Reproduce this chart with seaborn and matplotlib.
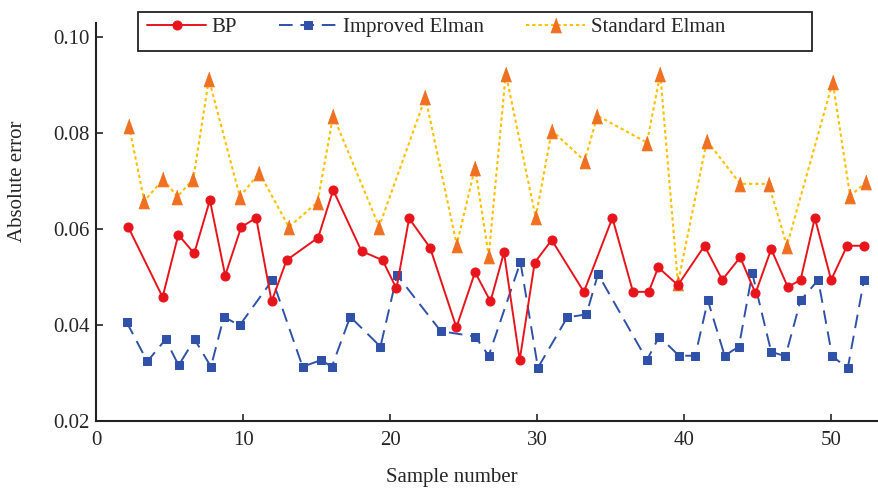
import matplotlib
matplotlib.use("Agg")

import matplotlib.pyplot as plt
import pandas as pd
import seaborn as sns
from matplotlib.patches import Rectangle


# sample positions and absolute errors
bp_x = [2.16, 4.5, 5.57, 6.65, 7.72, 8.76, 9.85, 10.87, 11.92, 12.94, 15.09, 16.11, 18.04,
        19.47, 20.42, 21.28, 22.71, 24.5, 25.77, 26.82, 27.74, 28.81, 29.83, 30.99, 33.18,
        35.12, 36.52, 37.59, 38.24, 39.58, 41.39, 42.6, 43.82, 44.86, 45.93, 47.06, 47.93,
        48.9, 50.01, 51.1, 52.22]
bp_y = [0.0604, 0.0458, 0.0588, 0.0549, 0.066, 0.0503, 0.0604, 0.0623, 0.0449, 0.0535,
        0.0582, 0.0681, 0.0554, 0.0535, 0.0476, 0.0622, 0.0561, 0.0395, 0.051, 0.0449,
        0.0551, 0.0327, 0.053, 0.0577, 0.0469, 0.0623, 0.0469, 0.0469, 0.052, 0.0483,
        0.0565, 0.0494, 0.0541, 0.0466, 0.0558, 0.0479, 0.0494, 0.0623, 0.0494, 0.0565,
        0.0565]

imp_x = [2.05, 3.46, 4.7, 5.59, 6.68, 7.79, 8.67, 9.74, 11.98, 14.03, 15.29, 16.02, 17.27,
         19.33, 20.46, 23.44, 25.77, 26.7, 28.86, 30.05, 32.05, 33.35, 34.14, 37.47, 38.31,
         39.65, 40.76, 41.62, 42.76, 43.73, 44.64, 45.93, 46.9, 47.93, 49.13, 50.08, 51.14,
         52.25]
imp_y = [0.0406, 0.0324, 0.037, 0.0316, 0.037, 0.0313, 0.0417, 0.0399, 0.0494, 0.0313,
         0.0327, 0.0313, 0.0417, 0.0355, 0.0504, 0.0387, 0.0376, 0.0336, 0.0531, 0.0311,
         0.0416, 0.0422, 0.0506, 0.0327, 0.0376, 0.0336, 0.0336, 0.0451, 0.0336, 0.0355,
         0.0508, 0.0344, 0.0335, 0.0451, 0.0494, 0.0335, 0.031, 0.0494]

std_x = [2.21, 3.25, 4.55, 5.5, 6.59, 7.65, 9.76, 11.08, 13.1, 15.05, 16.11, 19.24, 22.39,
         24.52, 25.77, 26.7, 27.86, 29.9, 31.0, 33.23, 34.1, 37.47, 38.38, 39.58, 41.55,
         43.82, 45.75, 47.0, 50.12, 51.3, 52.39]
std_y = [0.0815, 0.0658, 0.0704, 0.0667, 0.0704, 0.0912, 0.0667, 0.0717, 0.0604, 0.0656,
         0.0836, 0.0605, 0.0874, 0.0567, 0.0728, 0.0544, 0.0923, 0.0624, 0.0805, 0.0742,
         0.0836, 0.078, 0.0923, 0.0487, 0.0784, 0.0694, 0.0694, 0.0565, 0.0906, 0.0669,
         0.0697]

x_ticks = [0, 10, 20, 30, 40, 50]
y_ticks = [0.02, 0.04, 0.06, 0.08, 0.10]
y_tick_labels = ["0.02", "0.04", "0.06", "0.08", "0.10"]

W, H = 879, 493

sns.set_style("ticks")
plt.rcParams["font.family"] = ["Liberation Serif", "DejaVu Serif"]
plt.rcParams["font.size"] = 15

fig = plt.figure(figsize=(W / 100, H / 100), dpi=100)
ax = fig.add_axes([96.5 / W, 1 - 421 / H, (878 - 96.5) / W, (421 - 23) / H])

tall_tri = [(0, 1), (-0.72, -1), (0.72, -1)]

bp_df = pd.DataFrame({"x": bp_x, "y": bp_y})
imp_df = pd.DataFrame({"x": imp_x, "y": imp_y})
std_df = pd.DataFrame({"x": std_x, "y": std_y})

sns.lineplot(data=std_df, x="x", y="y", ax=ax, color="#ffc000", lw=1.5,
             linestyle=(0, (1.6, 1.4)), marker=tall_tri, markersize=10.5,
             markerfacecolor="#ef7021", markeredgecolor="#ef7021", label="Standard Elman")
sns.lineplot(data=imp_df, x="x", y="y", ax=ax, color="#2f52a8", lw=1.4,
             linestyle=(0, (7, 4)), marker="s", markersize=5.5,
             markeredgecolor="#2f52a8", label="Improved Elman")
sns.lineplot(data=bp_df, x="x", y="y", ax=ax, color="#e8141c", lw=1.4,
             marker="o", markersize=6.5, markeredgecolor="#e8141c", label="BP")

ax.set_xlim(0, 53.2)
ax.set_ylim(0.02, 0.1029)
ax.set_xticks(x_ticks)
ax.set_yticks(y_ticks)
ax.set_yticklabels(y_tick_labels)
ax.tick_params(direction="in", length=5, width=1.2, labelsize=15)
ax.tick_params(axis="x", pad=7)
ax.tick_params(axis="y", pad=5)
ax.set_xlabel("Sample number", fontsize=15, va="top")
ax.set_ylabel("Absolute error", fontsize=15)
ax.xaxis.set_label_coords((452 - 96.5) / 781.5, -(468 - 421) / 398)
ax.yaxis.set_label_coords(-(96.5 - 27) / 781.5, (421 - 181) / 398)
sns.despine(ax=ax)
for side in ["left", "bottom"]:
    ax.spines[side].set_linewidth(1.5)
    ax.spines[side].set_color("#222222")

handles, labels = ax.get_legend_handles_labels()
ax.get_legend().remove()
order = [2, 1, 0]
leg = fig.legend([handles[i] for i in order], [labels[i] for i in order],
                 loc="center left", bbox_to_anchor=(147 / W, 1 - 27 / H), ncol=3,
                 frameon=False, fontsize=15,
                 handlelength=2.85, handletextpad=0.25, columnspacing=2.0,
                 borderpad=0, borderaxespad=0)

# legend box drawn separately: the original has extra room below and to the right
fig.patches.append(Rectangle((138.5 / W, 1 - 51 / H), (812 - 138.5) / W, 39 / H,
                             transform=fig.transFigure, fill=False,
                             edgecolor="#222222", linewidth=1.3, zorder=5))

fig.savefig("out.png", dpi=100)
